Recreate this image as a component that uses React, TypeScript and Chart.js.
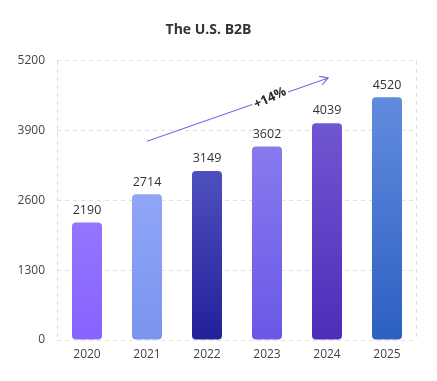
import React, { useEffect, useRef } from "react";
import { Chart, registerables } from "chart.js";

Chart.register(...registerables);

const categories = ["2020", "2021", "2022", "2023", "2024", "2025"];
const values = [2190, 2714, 3149, 3602, 4039, 4520];
const yTicks = [0, 1300, 2600, 3900, 5200];
const topColors = ["#a690ff", "#a3b6ff", "#6c6fd8", "#9489f2", "#7b62da", "#6a92e2"];
const bottomColors = ["#8862ff", "#7a94ee", "#22209a", "#6a58e6", "#4d2db8", "#2d5fc3"];
const titleText = "The U.S. B2B";
const trendLabel = "+14%";
// arrow annotation in data coordinates: [category index, value]
const arrowStart = [1, 3700];
const arrowEnd = [4.02, 4880];

const FONT = "'Open Sans', sans-serif";

const framePlugin = {
  id: "sideFrame",
  beforeDatasetsDraw(chart: any) {
    const { ctx, chartArea } = chart;
    ctx.save();
    ctx.strokeStyle = "#dddddd";
    ctx.lineWidth = 1;
    ctx.setLineDash([4, 4]);
    ctx.beginPath();
    const l = Math.round(chartArea.left) + 0.5;
    const r = Math.round(chartArea.right) - 0.5;
    ctx.moveTo(l, chartArea.top);
    ctx.lineTo(l, chartArea.bottom);
    ctx.moveTo(r, chartArea.top);
    ctx.lineTo(r, chartArea.bottom);
    ctx.stroke();
    ctx.restore();
  },
};

const trendPlugin = {
  id: "trendArrow",
  afterDatasetsDraw(chart: any) {
    const { ctx, scales } = chart;
    const xs = scales.x;
    const ys = scales.y;
    const step = xs.getPixelForValue(1) - xs.getPixelForValue(0);
    const px = (i: number) => xs.getPixelForValue(0) + i * step;
    const x1 = px(arrowStart[0]);
    const y1 = ys.getPixelForValue(arrowStart[1]);
    const x2 = px(arrowEnd[0]);
    const y2 = ys.getPixelForValue(arrowEnd[1]);
    const ang = Math.atan2(y2 - y1, x2 - x1);
    const len = Math.hypot(x2 - x1, y2 - y1);
    const tPos = 0.68 * len;
    const gap = 19;
    ctx.save();
    ctx.translate(x1, y1);
    ctx.rotate(ang);
    ctx.strokeStyle = "#6f6fe0";
    ctx.lineWidth = 1.1;
    ctx.beginPath();
    ctx.moveTo(0, 0);
    ctx.lineTo(tPos - gap, 0);
    ctx.moveTo(tPos + gap, 0);
    ctx.lineTo(len, 0);
    ctx.moveTo(len - 8, -4.5);
    ctx.lineTo(len, 0);
    ctx.lineTo(len - 8, 4.5);
    ctx.stroke();
    ctx.fillStyle = "#2a2a2a";
    ctx.font = `bold 13px ${FONT}`;
    ctx.textAlign = "center";
    ctx.textBaseline = "middle";
    ctx.translate(tPos, 0);
    ctx.rotate(-0.1);
    ctx.fillText(trendLabel, 0, 0);
    ctx.restore();
  },
};

const labelPlugin = {
  id: "valueLabels",
  afterDatasetsDraw(chart: any) {
    const { ctx } = chart;
    const meta = chart.getDatasetMeta(0);
    ctx.save();
    ctx.fillStyle = "#333";
    ctx.font = `12.5px ${FONT}`;
    ctx.textAlign = "center";
    ctx.textBaseline = "bottom";
    meta.data.forEach((el: any, i: number) => {
      ctx.fillText(String(values[i]), el.x, el.y - 6);
    });
    ctx.restore();
  },
};

export default function App() {
  const ref = useRef<HTMLCanvasElement | null>(null);
  useEffect(() => {
    document.body.style.margin = "0";
    const canvas = ref.current!;
    const chart = new Chart(canvas, {
      type: "bar",
      data: {
        labels: categories,
        datasets: [
          {
            data: values,
            barPercentage: 0.5,
            categoryPercentage: 1,
            borderRadius: 4,
            borderSkipped: false,
            backgroundColor: (c: any) => {
              const ch = c.chart;
              const area = ch.chartArea;
              if (!area) return topColors[c.dataIndex];
              const el = ch.getDatasetMeta(0).data[c.dataIndex];
              const top = el && el.y ? el.y : area.top;
              const g = ch.ctx.createLinearGradient(0, top, 0, area.bottom);
              g.addColorStop(0, topColors[c.dataIndex]);
              g.addColorStop(1, bottomColors[c.dataIndex]);
              return g;
            },
          },
        ],
      },
      options: {
        animation: false,
        responsive: false,
        maintainAspectRatio: false,
        layout: { padding: { left: 0, right: 20, top: 0, bottom: 0 } },
        plugins: {
          legend: { display: false },
          tooltip: { enabled: false },
          title: {
            display: true,
            text: titleText,
            color: "#333",
            font: { family: FONT, size: 14, weight: "bold" },
            padding: { top: 22, bottom: 22 },
          },
        },
        scales: {
          x: {
            grid: { display: false, drawTicks: false },
            border: { display: false },
            ticks: { color: "#444", font: { family: FONT, size: 12 }, padding: 7 },
            afterFit: (s: any) => {
              s.height = 41;
            },
          },
          y: {
            min: 0,
            max: 5200,
            afterBuildTicks: (s: any) => {
              s.ticks = yTicks.map((v) => ({ value: v }));
            },
            grid: { color: "#e0e0e0", drawTicks: false },
            border: { display: false, dash: [4, 4], color: "#dddddd" },
            ticks: {
              color: "#444",
              font: { family: FONT, size: 12 },
              padding: 12,
              callback: (v: any) => String(v),
            },
            afterFit: (s: any) => {
              s.width = 57;
            },
          },
        },
      },
      plugins: [framePlugin, labelPlugin, trendPlugin],
    } as any);
    return () => chart.destroy();
  }, []);
  return (
    <div style={{ width: 437, height: 381 }}>
      <canvas ref={ref} width={437} height={381} style={{ display: "block" }} />
    </div>
  );
}
